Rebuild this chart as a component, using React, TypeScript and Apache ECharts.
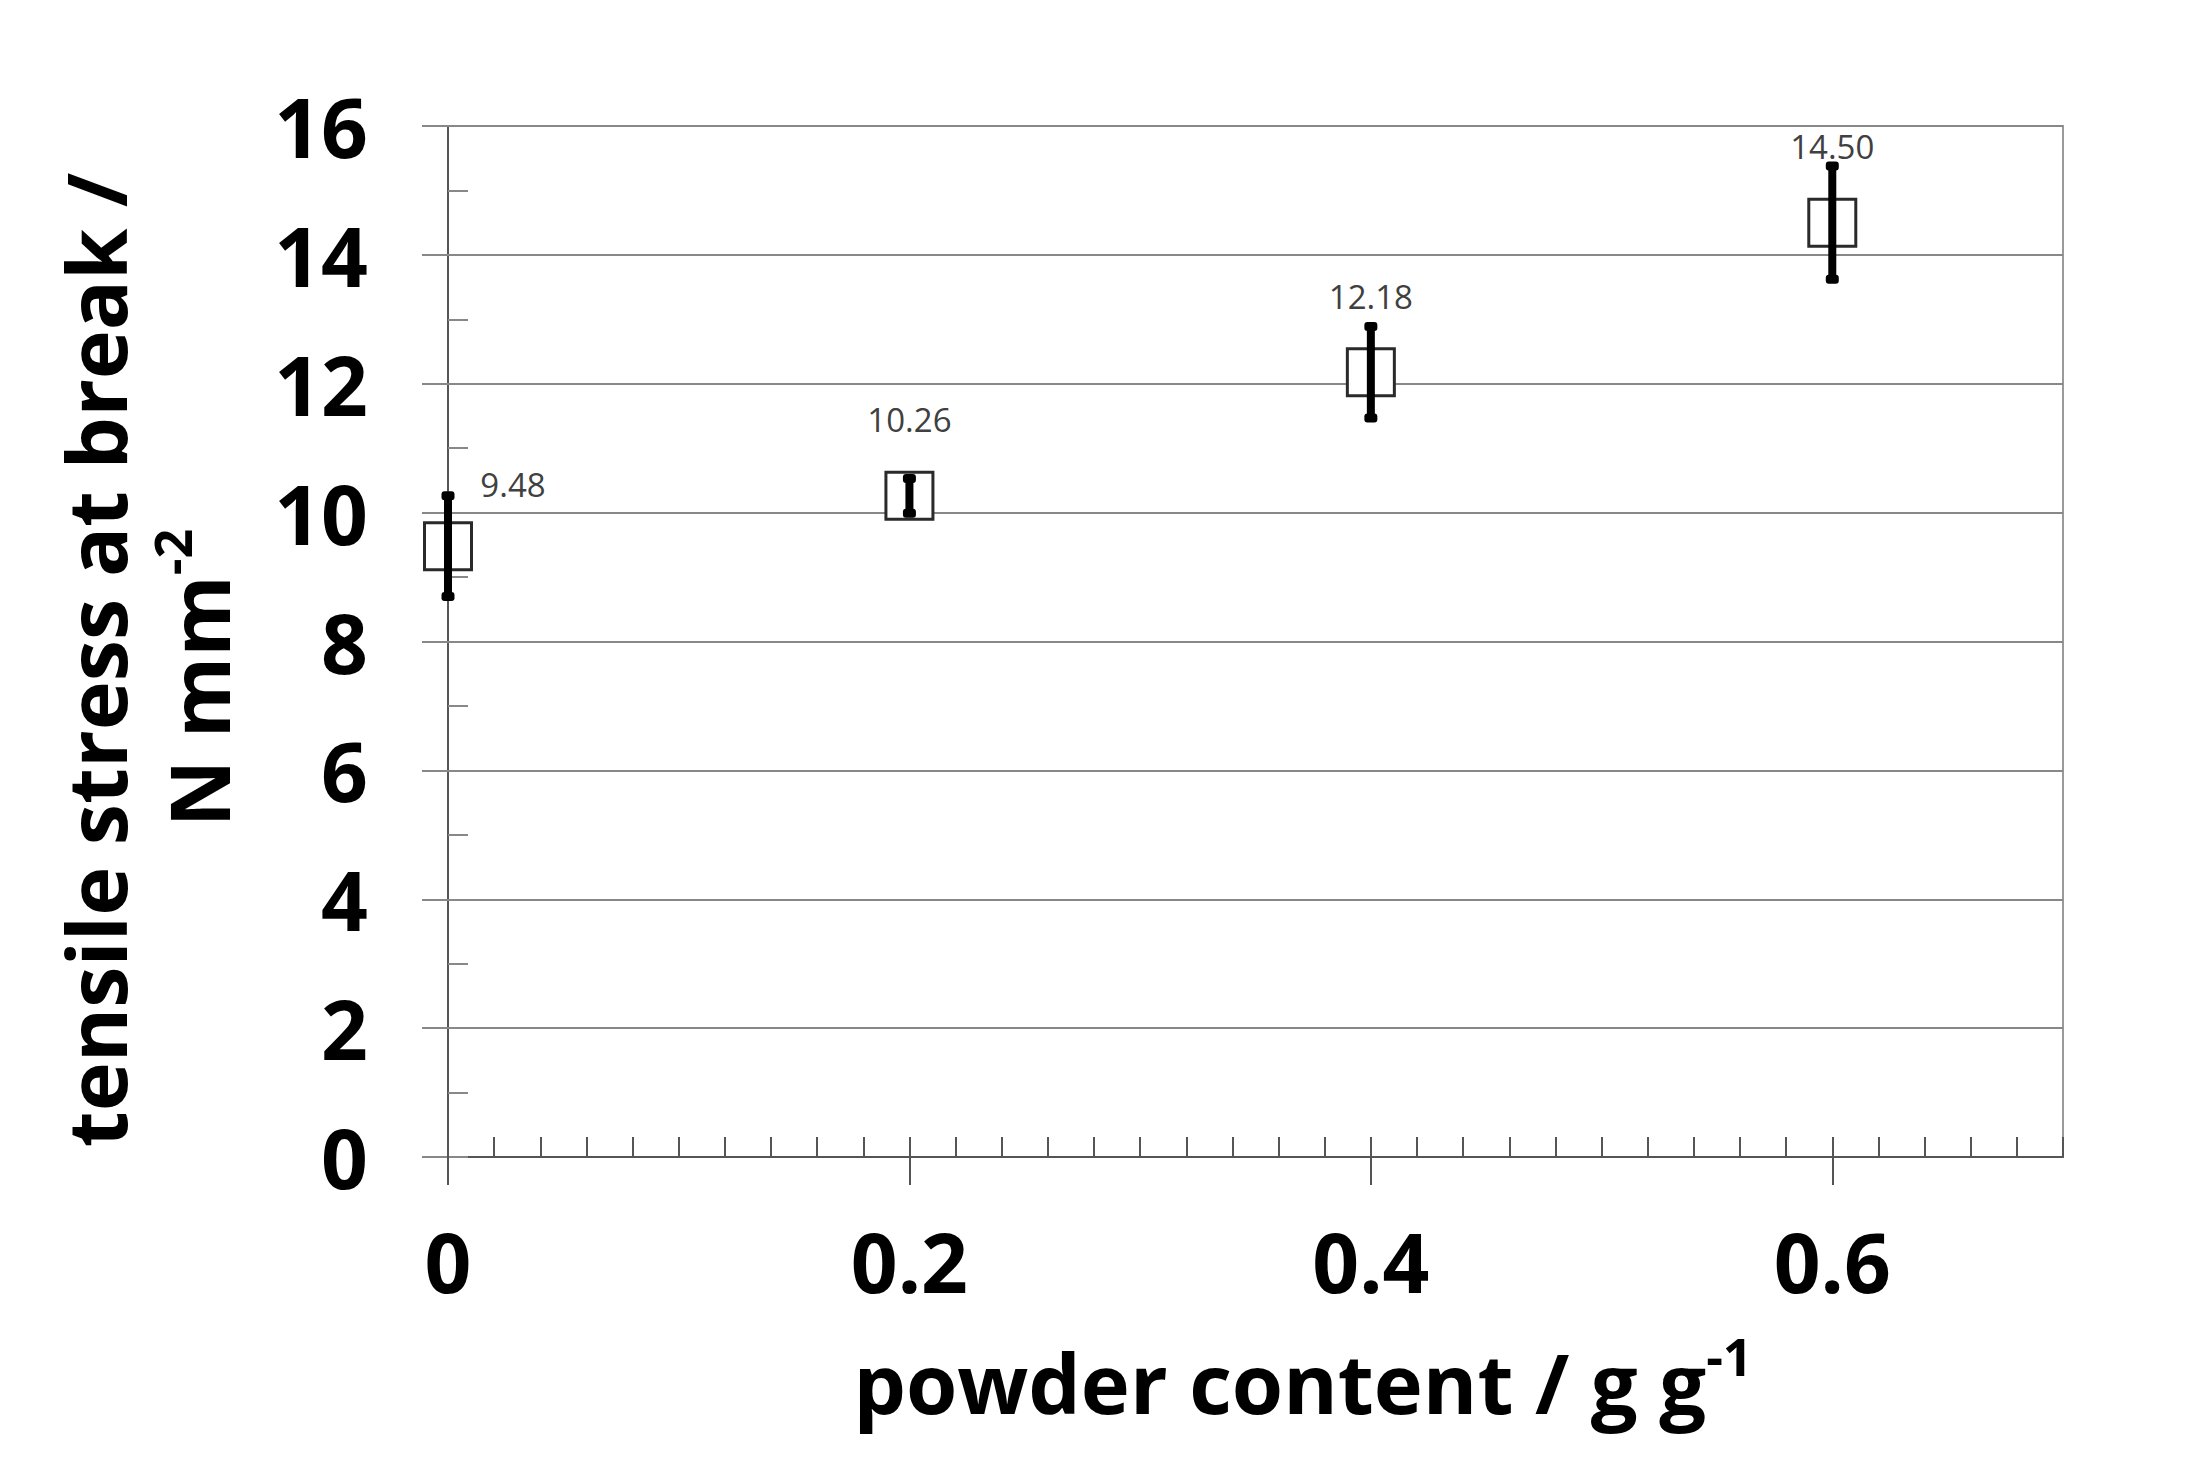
import React, { useEffect, useRef } from 'react';
import * as echarts from 'echarts';

const powderContent = [0, 0.2, 0.4, 0.6];
const tensileStress = [9.48, 10.26, 12.18, 14.5];
const stressError = [0.78, 0.27, 0.71, 0.88];
const valueLabels = ['9.48', '10.26', '12.18', '14.50'];
const xMajorTicks = [0, 0.2, 0.4, 0.6];
const xTitle = 'powder content / g g';
const xTitleSup = '-1';
const yTitleLine1 = 'tensile stress at break /';
const yTitleLine2 = 'N mm';
const yTitleSup = '-2';

const FONT = '"Open Sans", "Noto Sans", sans-serif';

export default function App() {
  const ref = useRef<HTMLDivElement>(null);
  useEffect(() => {
    const chart = echarts.init(ref.current!, null, { renderer: 'svg' });
    const points = powderContent.map((x, i) => ({
      value: [x, tensileStress[i]],
      label: { offset: i === 0 ? [65, -62] : [0, -76] },
    }));
    const bars = powderContent.map((x, i) => [x, tensileStress[i] - stressError[i], tensileStress[i] + stressError[i]]);
    const tickColor = '#555';
    chart.setOption({
      animation: false,
      backgroundColor: '#fff',
      grid: { left: 448, right: 141, top: 126, bottom: 307, show: true, borderColor: '#9a9a9a', borderWidth: 2 },
      xAxis: [
        {
          type: 'value', min: 0, max: 0.7, interval: 0.2, position: 'bottom',
          axisLine: { show: true, lineStyle: { color: tickColor, width: 2 } },
          axisTick: { show: true, inside: false, length: 28, customValues: xMajorTicks, lineStyle: { color: tickColor, width: 2 } },
          axisLabel: {
            margin: 63, fontSize: 82, fontWeight: 'bold', color: '#000', fontFamily: FONT,
            customValues: xMajorTicks,
            formatter: (v: number) => (v === 0 ? '0' : v.toFixed(1)),
          },
          splitLine: { show: false },
        },
        {
          type: 'value', min: 0, max: 0.7, interval: 0.02, position: 'bottom',
          axisLine: { show: false },
          axisTick: { show: true, inside: true, length: 20, lineStyle: { color: tickColor, width: 2 } },
          axisLabel: { show: false },
          splitLine: { show: false },
        },
      ],
      yAxis: [
        {
          type: 'value', min: 0, max: 16, interval: 2, position: 'left',
          axisLine: { show: true, lineStyle: { color: tickColor, width: 2 } },
          axisTick: { show: true, inside: false, length: 26, lineStyle: { color: '#888', width: 2 } },
          axisLabel: { margin: 80, fontSize: 82, fontWeight: 'bold', color: '#000', fontFamily: FONT },
          splitLine: { show: true, lineStyle: { color: '#888', width: 2 } },
        },
        {
          type: 'value', min: 0, max: 16, interval: 1, position: 'left',
          axisLine: { show: false },
          axisTick: { show: true, inside: true, length: 20, lineStyle: { color: '#888', width: 2 } },
          axisLabel: { show: false },
          splitLine: { show: false },
        },
      ],
      series: [
        {
          type: 'scatter',
          data: points,
          symbol: 'rect',
          symbolSize: 47,
          z: 2,
          itemStyle: { color: '#fff', borderColor: '#2a2a2a', borderWidth: 3, opacity: 1 },
          label: {
            show: true, position: 'inside', fontSize: 33, color: '#404040', fontFamily: FONT,
            align: 'center', verticalAlign: 'middle',
            formatter: (p: any) => valueLabels[p.dataIndex],
          },
        },
        {
          type: 'custom',
          data: bars,
          z: 3,
          encode: { x: 0, y: [1, 2] },
          renderItem: (params: any, api: any) => {
            const x = api.value(0);
            const lo = api.coord([x, api.value(1)]);
            const hi = api.coord([x, api.value(2)]);
            return {
              type: 'group',
              children: [
                { type: 'line', shape: { x1: lo[0], y1: lo[1], x2: hi[0], y2: hi[1] }, style: { stroke: '#000', lineWidth: 8 } },
                { type: 'rect', shape: { x: hi[0] - 6.5, y: hi[1] - 4.5, width: 13, height: 9, r: 3 }, style: { fill: '#000' } },
                { type: 'rect', shape: { x: lo[0] - 6.5, y: lo[1] - 4.5, width: 13, height: 9, r: 3 }, style: { fill: '#000' } },
              ],
            };
          },
        },
      ],
      graphic: [
        {
          type: 'text', x: 94, y: 660, rotation: Math.PI / 2,
          style: { text: yTitleLine1, fontSize: 83, fontWeight: 'bold', fontFamily: FONT, fill: '#000', align: 'center', verticalAlign: 'middle' },
        },
        {
          type: 'text', x: 197, y: 678, rotation: Math.PI / 2,
          style: {
            text: `{a|${yTitleLine2}}{s|${yTitleSup}}`, align: 'center', verticalAlign: 'middle',
            rich: {
              a: { fontSize: 83, fontWeight: 'bold', fontFamily: FONT, fill: '#000', lineHeight: 104 },
              s: { fontSize: 52, fontWeight: 'bold', fontFamily: FONT, fill: '#000', lineHeight: 62, verticalAlign: 'top' },
            },
          },
        },
        {
          type: 'text', x: 1303, y: 1381,
          style: {
            text: `{a|${xTitle}}{s|${xTitleSup}}`, align: 'center', verticalAlign: 'middle',
            rich: {
              a: { fontSize: 83, fontWeight: 'bold', fontFamily: FONT, fill: '#000', lineHeight: 104 },
              s: { fontSize: 52, fontWeight: 'bold', fontFamily: FONT, fill: '#000', lineHeight: 62, verticalAlign: 'top' },
            },
          },
        },
      ],
    });
    return () => chart.dispose();
  }, []);
  return <div ref={ref} style={{ width: 2204, height: 1464, position: 'absolute', left: 0, top: 0 }} />;
}
